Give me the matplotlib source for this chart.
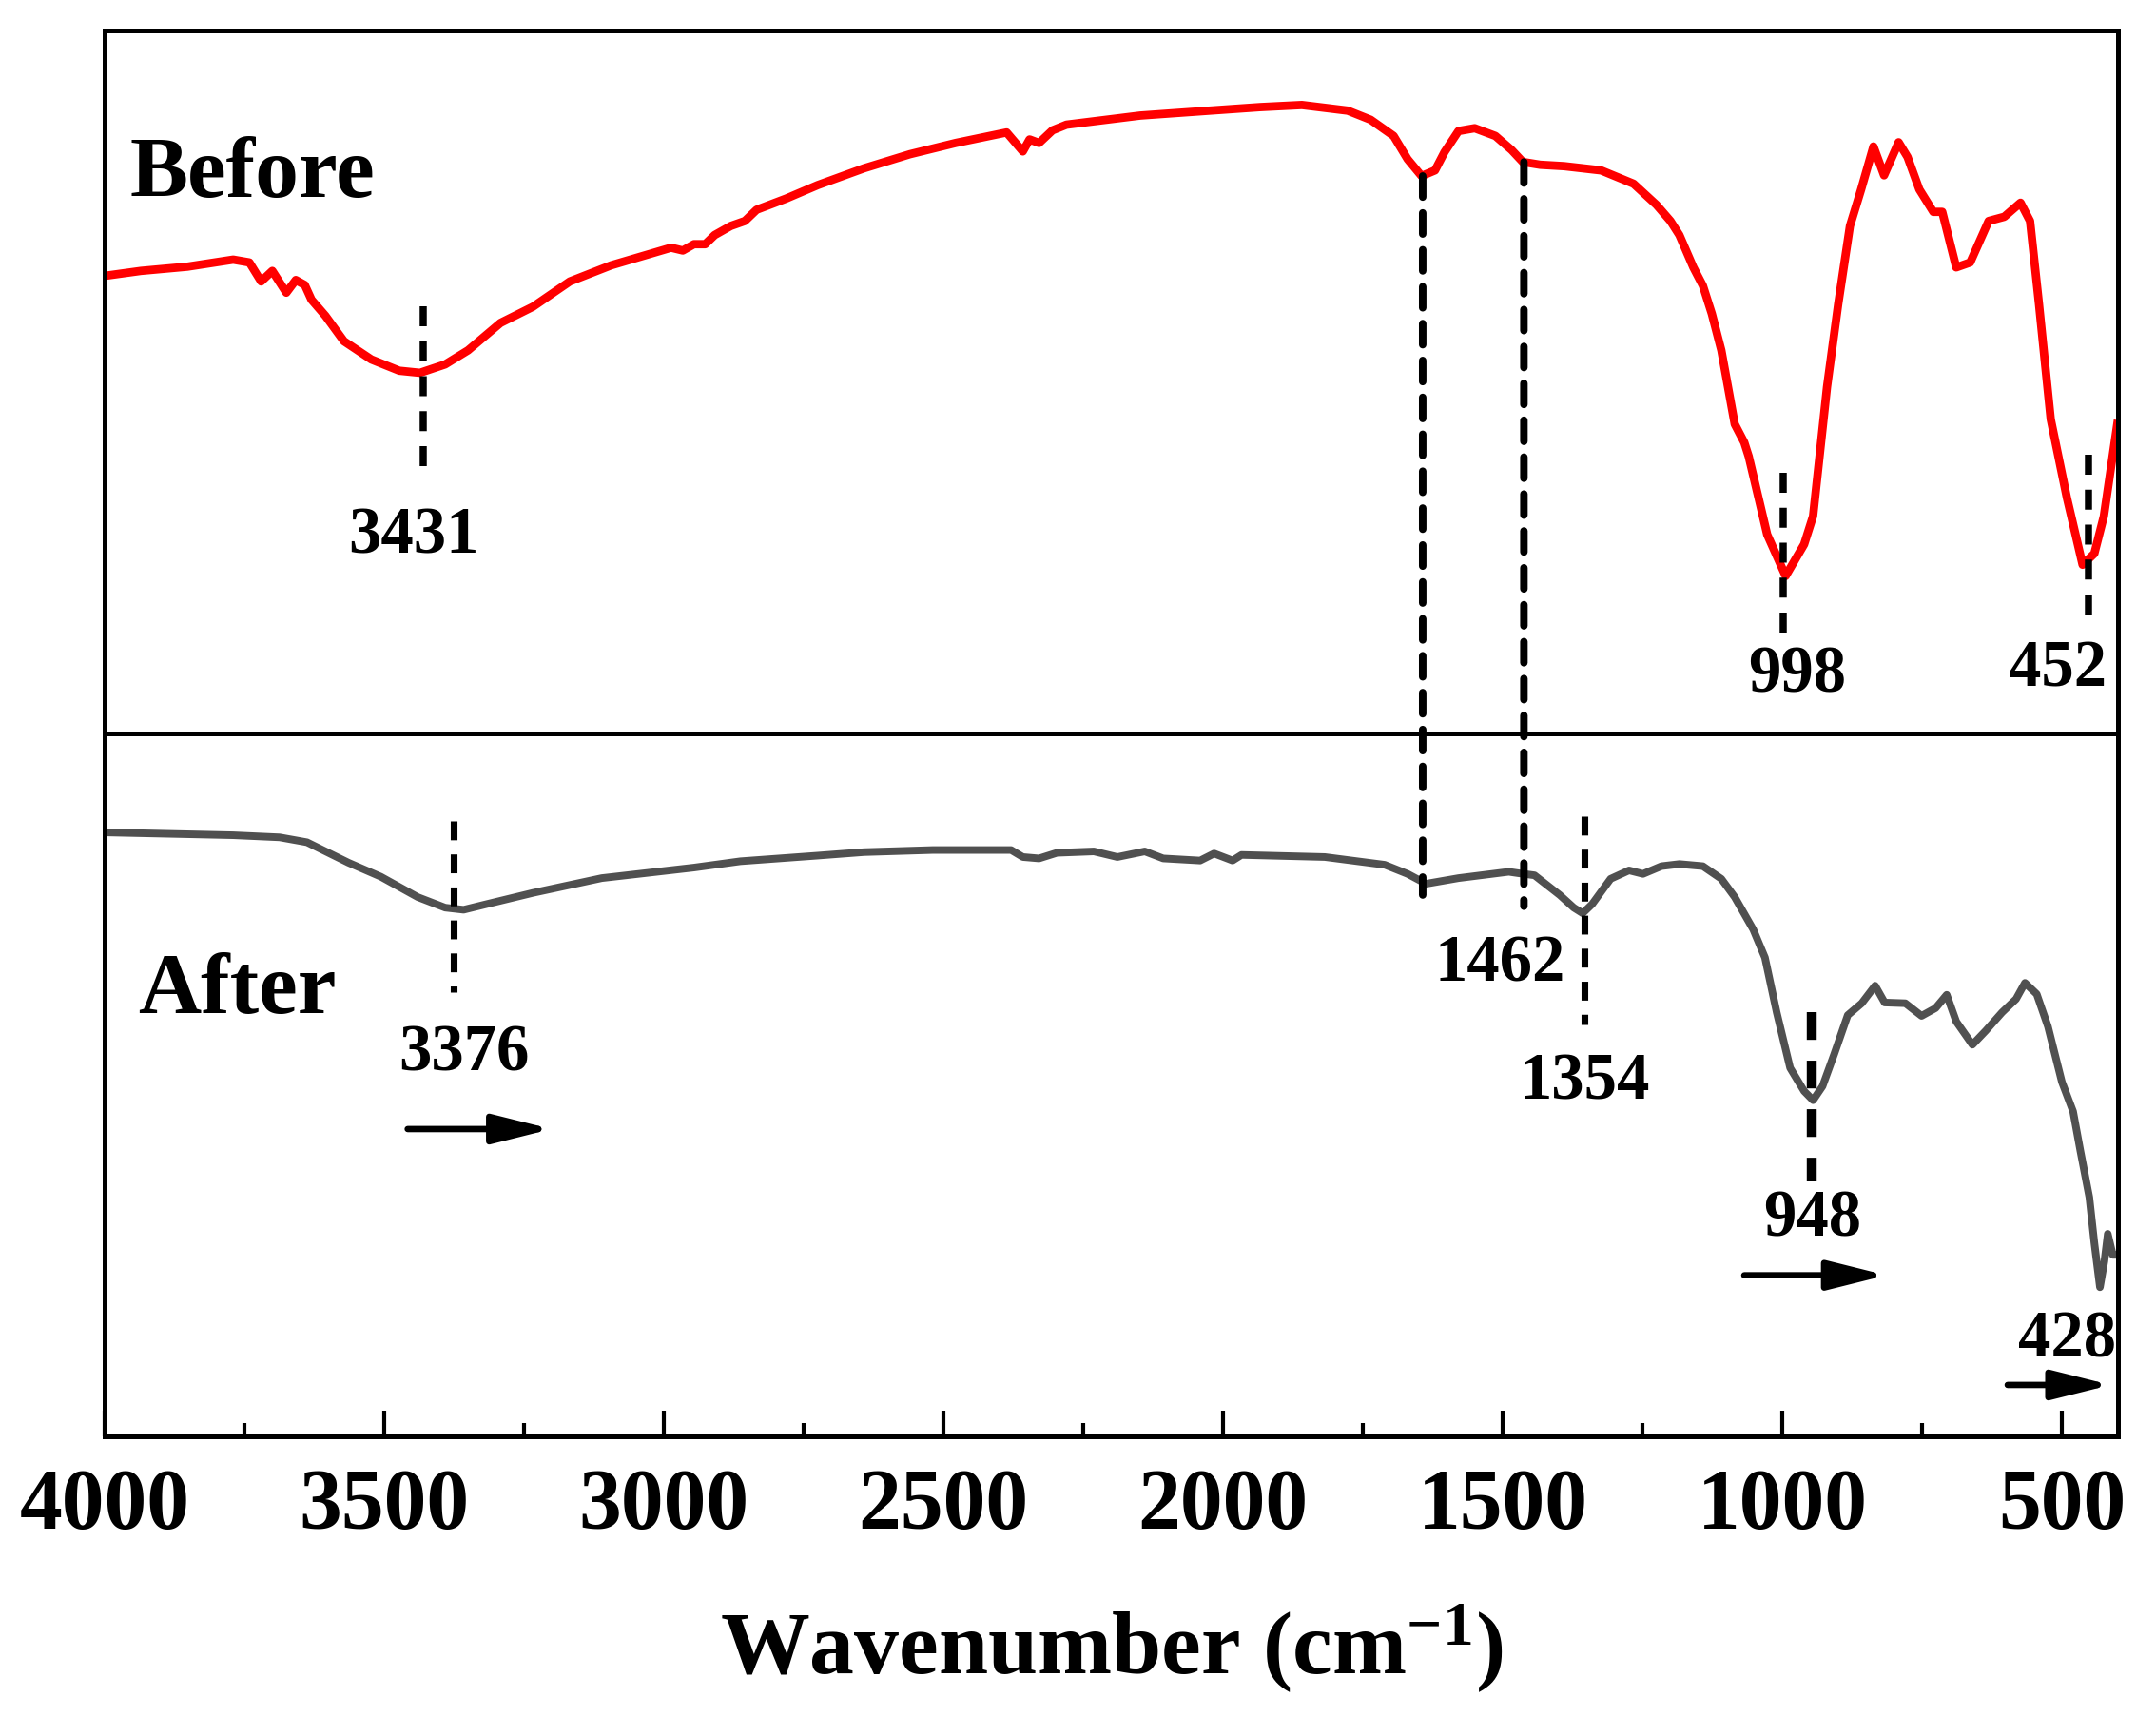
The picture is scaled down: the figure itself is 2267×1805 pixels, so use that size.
import matplotlib
matplotlib.use("Agg")
from matplotlib import pyplot as plt
from matplotlib.patches import ConnectionPatch
from matplotlib.ticker import MultipleLocator

plt.rcParams["font.family"] = "Liberation Serif"
plt.rcParams["font.weight"] = "bold"
plt.rcParams["axes.labelweight"] = "bold"
plt.rcParams["mathtext.fontset"] = "custom"
plt.rcParams["mathtext.rm"] = "Liberation Serif:bold"
plt.rcParams["mathtext.bf"] = "Liberation Serif:bold"
plt.rcParams["mathtext.it"] = "Liberation Serif:bold"

# before adsorption (transmittance, a.u.)
wn_before = [3999, 3935, 3852, 3770, 3741, 3720, 3700, 3675, 3658, 3642, 3630, 3605,
             3572, 3523, 3473, 3436, 3391, 3350, 3292, 3234, 3168, 3094, 2987, 2966,
             2946, 2926, 2909, 2880, 2855, 2834, 2781, 2725, 2642, 2560, 2478, 2387,
             2358, 2346, 2329, 2305, 2280, 2148, 2024, 1934, 1859, 1777, 1736, 1695,
             1670, 1645, 1621, 1604, 1579, 1550, 1513, 1484, 1464, 1433, 1390, 1324,
             1266, 1225, 1200, 1184, 1159, 1142, 1126, 1109, 1085, 1068, 1060, 1027,
             994, 961, 945, 920, 900, 879, 859, 837, 818, 792, 776, 755, 730, 714,
             689, 664, 631, 603, 574, 557, 541, 520, 491, 463, 442, 425, 401]
t_before = [65.1, 65.8, 66.4, 67.4, 67.0, 64.3, 65.8, 62.7, 64.5, 63.8, 61.7, 59.4,
            55.8, 53.2, 51.6, 51.3, 52.5, 54.5, 58.4, 60.7, 64.3, 66.6, 69.1, 68.7,
            69.6, 69.6, 70.9, 72.2, 72.9, 74.5, 76.1, 78.0, 80.4, 82.4, 84.0, 85.5,
            82.8, 84.5, 84.0, 85.8, 86.6, 87.9, 88.6, 89.1, 89.4, 88.6, 87.3, 85.0,
            81.7, 79.3, 80.1, 82.7, 85.7, 86.1, 85.0, 83.0, 81.3, 80.9, 80.7, 80.1,
            78.2, 75.2, 72.9, 70.9, 66.3, 63.7, 59.7, 54.5, 44.0, 41.4, 39.4, 28.3,
            22.4, 26.9, 30.9, 49.3, 61.1, 72.2, 77.4, 83.5, 79.4, 84.1, 82.0, 77.4, 74.2, 74.2,
            66.3, 67.0, 72.9, 73.5, 75.5, 72.9, 61.1, 44.7, 33.5, 24.0, 25.6, 30.9, 44.0]

# after adsorption
wn_after = [3999, 3770, 3687, 3638, 3564, 3506, 3440, 3391, 3358, 3317, 3234, 3111,
            2946, 2863, 2725, 2642, 2519, 2379, 2358, 2329, 2297, 2231, 2189, 2140,
            2107, 2041, 2016, 1983, 1967, 1818, 1711, 1670, 1637, 1579, 1489, 1472,
            1443, 1398, 1373, 1357, 1340, 1307, 1274, 1249, 1216, 1184, 1142, 1109,
            1085, 1052, 1031, 1010, 986, 961, 945, 928, 907, 883, 858, 834, 817, 780,
            751, 726, 706, 689, 660, 636, 607, 582, 566, 545, 525, 500, 480, 467, 451,
            442, 432, 424, 418, 409, 401]
t_after = [85.9, 85.5, 85.2, 84.5, 81.6, 79.6, 76.7, 75.2, 74.9, 75.7, 77.3, 79.4,
           80.9, 81.8, 82.6, 83.1, 83.4, 83.4, 82.4, 82.2, 83.0, 83.2, 82.4, 83.2,
           82.2, 81.9, 82.9, 81.9, 82.7, 82.4, 81.3, 80.0, 78.6, 79.4, 80.3, 80.1,
           79.8, 77.0, 75.2, 74.4, 75.7, 79.3, 80.5, 80.0, 81.1, 81.4, 81.1, 79.3,
           76.7, 72.1, 68.1, 60.3, 52.4, 49.1, 47.8, 49.8, 54.4, 59.9, 61.6, 64.1, 61.7, 61.6,
           59.8, 60.9, 62.8, 59.0, 55.7, 57.7, 60.3, 62.2, 64.5, 62.9, 58.3, 50.4, 46.2, 40.6, 34.0,
           27.5, 21.2, 24.9, 28.8, 25.8, 25.8]

# marked peaks: (position, dash from, dash to)
peaks_before = [(3431, 60.8, 36.4), (998, 37.1, 12.9), (452, 39.7, 15.2)]
peaks_after = [(3376, 87.5, 63.2), (1354, 88.2, 58.6)]
peak_948 = (948, 60.3, 36.3)
shared_peaks = [(1643, 79.3, 77.0), (1462, 81.3, 75.4)]

# labels: (text, x, baseline)
labels_before = [("3431", 3448, 25.8), ("998", 974, 6.0), ("452", 508, 6.9)]
labels_after = [("3376", 3358, 52.1), ("1462", 1505, 64.9), ("1354", 1353, 48.1),
                ("948", 946, 28.6), ("428", 490, 11.4)]

# shift arrows: (from, to, level)
shift_arrows = [(3458, 3201, 43.7), (1068, 814, 22.9), (597, 413, 7.3)]

dash = (0, (2.8, 2.1))

fig = plt.figure(figsize=(2267 / 300, 1806 / 300), dpi=300)
ax_top = fig.add_axes([0.0485, 0.5725, 0.9338, 0.4092])
ax_bot = fig.add_axes([0.0485, 0.1634, 0.9338, 0.4092])

for ax in (ax_top, ax_bot):
    ax.set_xlim(4000, 400)
    ax.set_ylim(0, 100)
    for sp in ax.spines.values():
        sp.set_linewidth(1.2)
    ax.tick_params(left=False, labelleft=False)

ax_top.tick_params(bottom=False, labelbottom=False)

ax_top.plot(wn_before, t_before, color="#ff0000", lw=2.1, solid_joinstyle="round")
ax_bot.plot(wn_after, t_after, color="#505050", lw=1.9, solid_joinstyle="round")

for x, y0, y1 in peaks_before:
    ax_top.plot([x, x], [y0, y1], color="k", lw=1.8, ls=dash)
for x, y0, y1 in peaks_after:
    ax_bot.plot([x, x], [y0, y1], color="k", lw=1.7, ls=dash)
ax_bot.plot([peak_948[0]] * 2, peak_948[1:], color="k", lw=2.5, ls=dash)

for x, y0, y1 in shared_peaks:
    con = ConnectionPatch(xyA=(x, y0), coordsA=ax_top.transData,
                          xyB=(x, y1), coordsB=ax_bot.transData,
                          color="k", lw=1.9, ls=dash)
    fig.add_artist(con)

for txt, x, y in labels_before:
    ax_top.text(x, y, txt, fontsize=16.5, ha="center", va="baseline")
for txt, x, y in labels_after:
    ax_bot.text(x, y, txt, fontsize=16.5, ha="center", va="baseline")

ax_top.text(3955, 76.5, "Before", fontsize=22, ha="left", va="baseline")
ax_bot.text(3941, 60.3, "After", fontsize=22, ha="left", va="baseline")

for x0, x1, y in shift_arrows:
    ax_bot.annotate("", xy=(x1, y), xytext=(x0, y),
                    arrowprops=dict(arrowstyle="-|>,head_length=0.4,head_width=0.1",
                                    mutation_scale=31, lw=1.6, color="k",
                                    shrinkA=0, shrinkB=0))

ax_bot.xaxis.set_major_locator(MultipleLocator(500))
ax_bot.xaxis.set_minor_locator(MultipleLocator(250))
ax_bot.tick_params(axis="x", which="major", direction="in", length=6.4, width=1.0,
                   labelsize=21.5, pad=8)
ax_bot.tick_params(axis="x", which="minor", direction="in", length=3.3, width=1.0)
ax_bot.set_xlabel("Wavenumber (cm$^{-1}$)", fontsize=22.5, fontweight="bold", labelpad=14)

fig.savefig("out.png", dpi=300)
